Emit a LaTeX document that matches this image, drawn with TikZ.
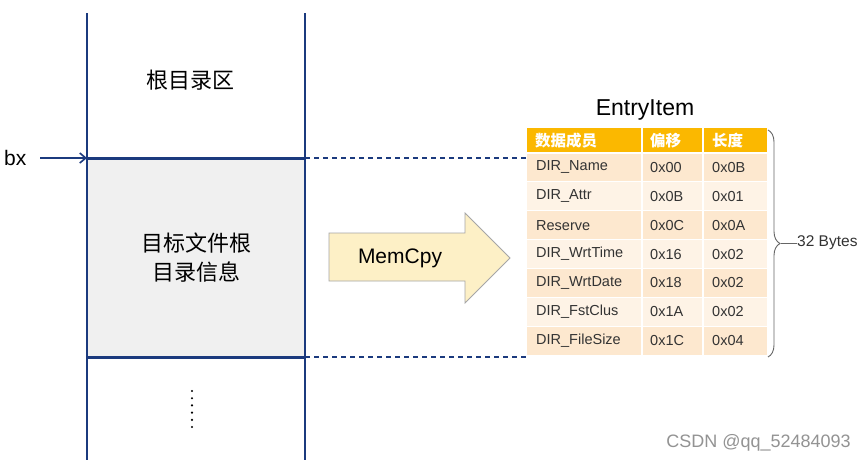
\documentclass[tikz,border=0pt]{standalone}
\usepackage{fontspec}
\setmainfont{Liberation Sans}
\newfontfamily\cjk{Noto Sans CJK SC}
\usetikzlibrary{decorations.pathreplacing,arrows.meta}
\definecolor{navy}{HTML}{1B3A7E}
\definecolor{hdr}{HTML}{FBB800}
\definecolor{rowA}{HTML}{FDE8CF}
\definecolor{rowB}{HTML}{FEF3E6}
\definecolor{txt}{HTML}{333333}
\definecolor{arrowfill}{HTML}{FDF0C6}
\definecolor{graybox}{HTML}{F0F0F0}
\tikzset{
  vline/.style={navy, line width=2pt},
  hline/.style={navy, line width=3pt},
  dashline/.style={navy, line width=1.3pt, dash pattern=on 5pt off 4pt},
  cell/.style={anchor=west, inner sep=0pt, font=\fontsize{14.5}{15}\selectfont, text=txt},
  hcell/.style={anchor=west, inner sep=0pt, font=\cjk\bfseries\fontsize{15.5}{16}\selectfont, text=white},
  cjklabel/.style={font=\cjk\fontsize{22}{29}\selectfont, text=black, align=center},
}
\begin{document}
\begin{tikzpicture}[x=1pt,y=-1pt]
\useasboundingbox[fill=white] (0,0) rectangle (866,466);
% gray area
\fill[graybox] (87,158) rectangle (305,357);
% left column
\coordinate (tl) at (87,13);
\coordinate (bl) at (87,460);
\coordinate (tr) at (305,13);
\coordinate (br) at (305,460);
\draw[vline] (tl) -- (bl);
\draw[vline] (tr) -- (br);
\coordinate (h1l) at (87,158);
\coordinate (h1r) at (305,158);
\coordinate (h2l) at (87,357);
\coordinate (h2r) at (305,357);
\draw[hline] (h1l) -- (h1r);
\draw[hline] (h2l) -- (h2r);
% labels
\node[cjklabel] (root) at (190,80) {根目录区};
\node[cjklabel] (info) at (196,258) {目标文件根\\目录信息};
% dots
\foreach \i in {0,...,5} {
  \fill[black] (192,{391+7.2*\i}) circle (1.2pt);
}
% bx
\node[font=\fontsize{21}{22}\selectfont, anchor=west, inner sep=0pt] (bx) at (4,158) {bx};
\coordinate (bxs) at (40,158);
\draw[navy, line width=1.6pt, -{Straight Barb[length=6pt,width=10pt]}] (bxs) -- (h1l);
% dashed lines
\coordinate (d1) at (526,158);
\coordinate (d2) at (526,357);
\draw[dashline] (h1r) -- (d1);
\draw[dashline] (h2r) -- (d2);
% memcpy arrow
\draw[fill=arrowfill, draw=gray!70, line width=0.8pt]
  (329,233) -- (465,233) -- (465,213) -- (510,258) -- (465,303) -- (465,281) -- (329,281) -- cycle;
\node[font=\fontsize{21}{22}\selectfont, text=black] (mem) at (400,258) {MemCpy};
% table
\node[font=\fontsize{23}{25}\selectfont] (title) at (645,110) {EntryItem};
\fill[hdr] (527,128) rectangle (767,153);
\draw[white, line width=1.2pt] (642,128) -- (642,153) (703,128) -- (703,153);
\node[hcell] (h1) at (535,141) {数据成员};
\node[hcell] (h2) at (650,141) {偏移};
\node[hcell] (h3) at (712,141) {长度};
\foreach \n/\a/\b [count=\i from 0] in {DIR\_Name/0x00/0x0B, DIR\_Attr/0x0B/0x01, Reserve/0x0C/0x0A, DIR\_WrtTime/0x16/0x02, DIR\_WrtDate/0x18/0x02, DIR\_FstClus/0x1A/0x02, DIR\_FileSize/0x1C/0x04} {
  \pgfmathsetmacro{\yt}{153+28.86*\i}
  \pgfmathsetmacro{\yb}{153+28.86*(\i+1)}
  \pgfmathsetmacro{\ym}{153+28.86*(\i+0.5)}
  \ifodd\i \def\rc{rowB}\else\def\rc{rowA}\fi
  \fill[\rc] (527,\yt) rectangle (767,\yb);
  \draw[white, line width=1.2pt] (527,\yt) -- (767,\yt) (642,\yt) -- (642,\yb) (703,\yt) -- (703,\yb);
  \node[cell] (c\i a) at (536,\ym) {\n};
  \node[cell] (c\i b) at (650,\ym) {\a};
  \node[cell] (c\i c) at (712,\ym) {\b};
}
% brace
\coordinate (bt) at (768,130);
\coordinate (bb) at (768,357);
\draw[gray!80!black, line width=0.9pt, decorate, decoration={brace, amplitude=12pt}] (bt) -- (bb);
\coordinate (btip) at (781,243);
\node[font=\fontsize{15.5}{16}\selectfont, anchor=west, inner sep=0pt, text=txt] (bytes) at (797,243) {32 Bytes};
\draw[gray!80!black, line width=0.9pt] (btip) -- (bytes.west);
% watermark credit
\node[font=\fontsize{18}{19}\selectfont, text=gray!85, anchor=east, inner sep=0pt] (csdn) at (851,443) {CSDN @qq\_52484093};
\end{tikzpicture}
\end{document}
